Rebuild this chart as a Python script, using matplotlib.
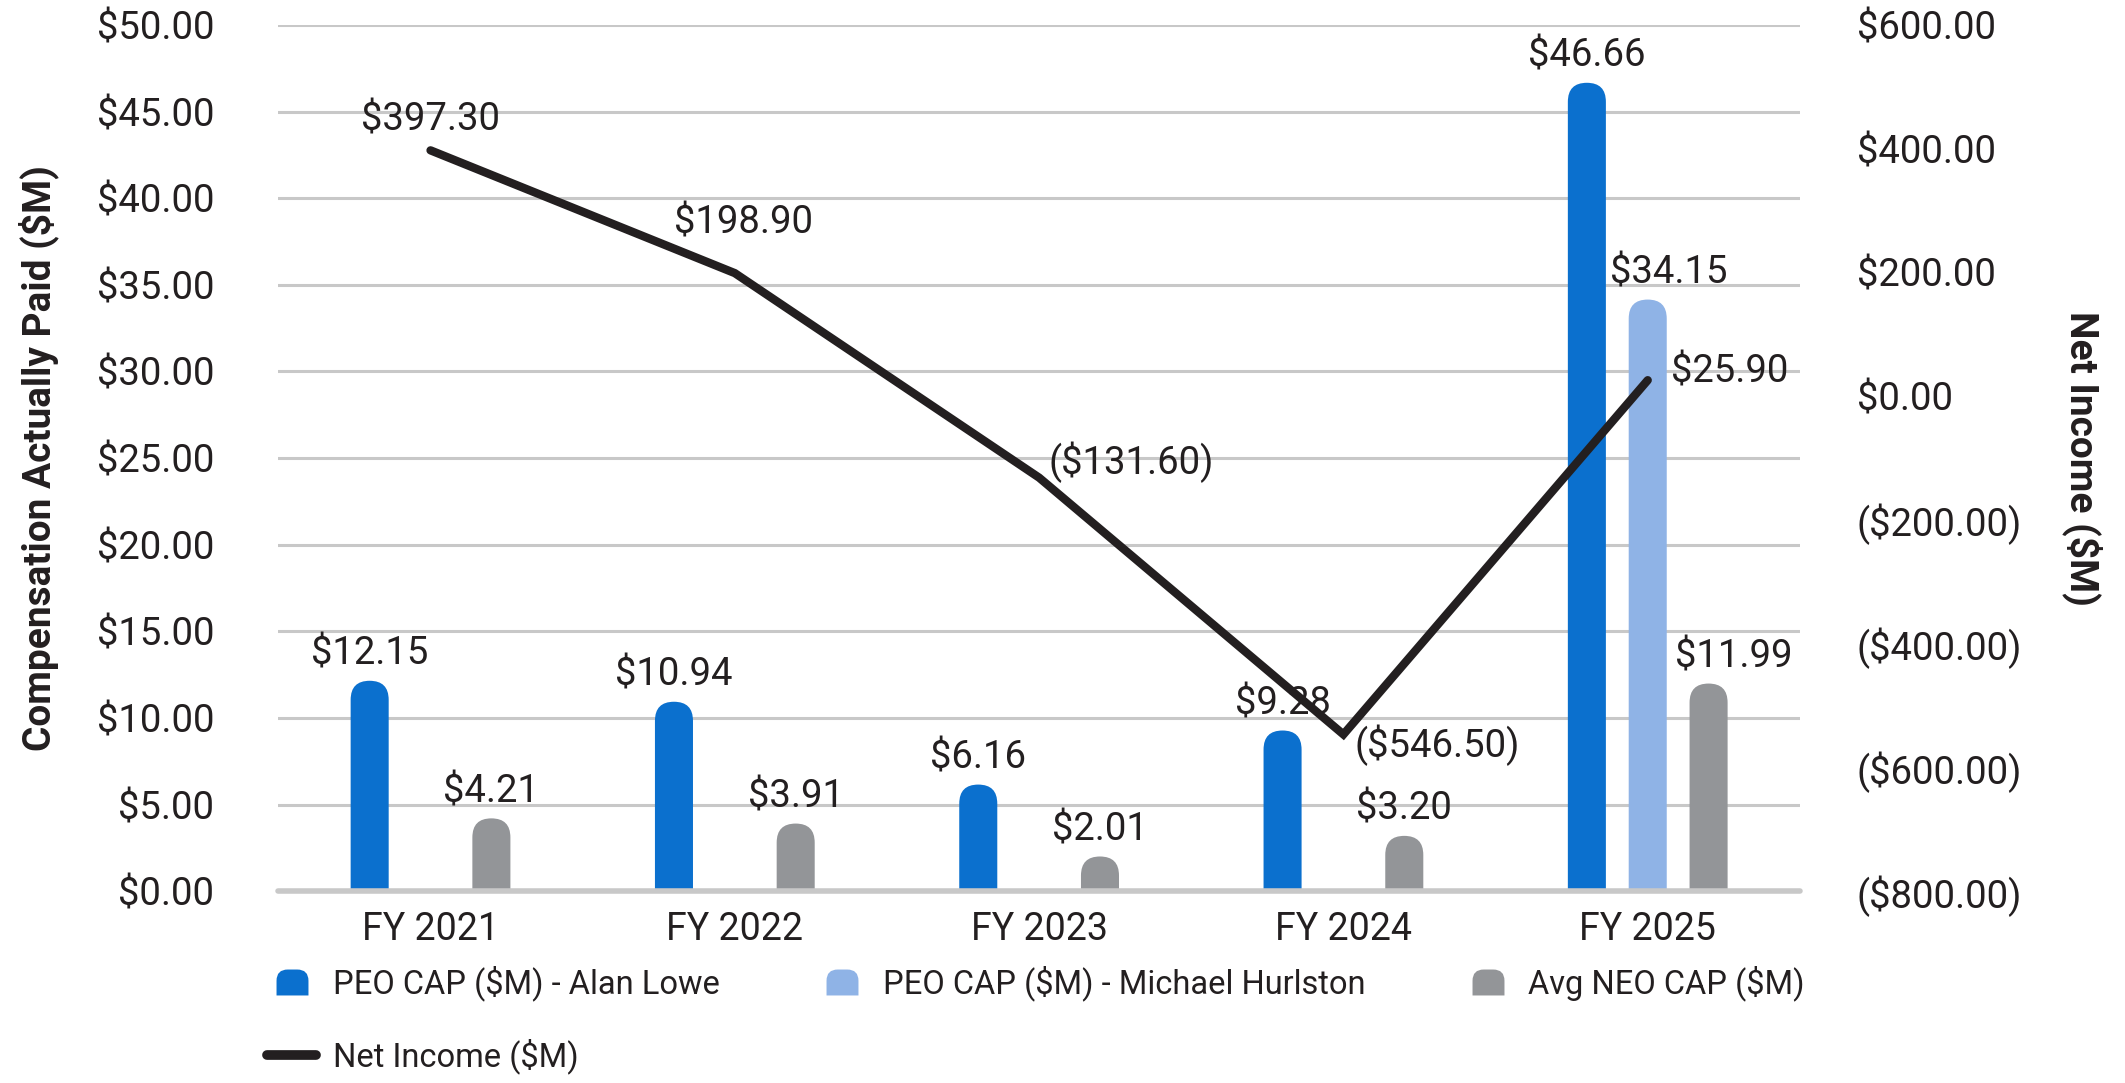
import numpy as np
import matplotlib
matplotlib.use("Agg")
import matplotlib.pyplot as plt
import matplotlib.path as mpath
from matplotlib.patches import FancyBboxPatch
from matplotlib.lines import Line2D
from matplotlib.ticker import FuncFormatter

plt.rcParams['font.family'] = ['Roboto', 'DejaVu Sans']

# data
years = ["FY 2021", "FY 2022", "FY 2023", "FY 2024", "FY 2025"]
cap_lowe = [12.15, 10.94, 6.16, 9.28, 46.66]
cap_hurlston = [None, None, None, None, 34.15]
cap_neo = [4.21, 3.91, 2.01, 3.20, 11.99]
net_income = [397.30, 198.90, -131.60, -546.50, 25.90]

blue = "#0B70CE"
light_blue = "#8FB3E6"
gray = "#939598"
dark = "#231F20"
grid_c = "#C8C8C8"
fs = 27.5

fig = plt.figure(figsize=(21.25, 10.83), dpi=100)
ax = fig.add_axes([0.131, 0.177, 0.716, 0.800])
ax.set_xlim(-0.5, 4.5)
ax.set_ylim(0, 50)

# aspect for round bar tops
bbox = ax.get_position()
ax_w = bbox.width * fig.get_figwidth() * fig.dpi
ax_h = bbox.height * fig.get_figheight() * fig.dpi
aspect = (50 / ax_h) / (5 / ax_w)

bw = 0.125
series = [(cap_lowe, -0.2, blue), (cap_hurlston, 0.0, light_blue), (cap_neo, 0.2, gray)]
# x nudges for crowded labels in FY 2025
label_dx = {(1, 4): 15, (2, 4): 18}
x = np.arange(len(years))
for si, (vals, off, col) in enumerate(series):
    for i, v in enumerate(vals):
        if v is None:
            continue
        ry = bw / 2 * aspect
        p = FancyBboxPatch((x[i] + off - bw / 2, -ry), bw, v + ry,
                           boxstyle=f"round,pad=0,rounding_size={bw/2}",
                           mutation_aspect=aspect, fc=col, ec="none", zorder=2)
        ax.add_patch(p)
        ax.annotate(f"${v:.2f}", (x[i] + off, v), xytext=(label_dx.get((si, i), 0), 6),
                    textcoords="offset points", ha="center", va="bottom",
                    fontsize=fs, color=dark, zorder=5)

ax.set_yticks(np.arange(0, 51, 5))
ax.yaxis.set_major_formatter(FuncFormatter(lambda v, p: f"${v:.2f}"))
ax.set_xticks(x)
ax.set_xticklabels(years)
ax.grid(axis="y", color=grid_c, linewidth=2.2, zorder=0)
ax.set_axisbelow(True)
for s in ["top", "left", "right"]:
    ax.spines[s].set_visible(False)
ax.spines["bottom"].set_color(grid_c)
ax.spines["bottom"].set_linewidth(4)
ax.spines["bottom"].set_capstyle("round")
ax.tick_params(axis="y", length=0, pad=46, labelsize=fs, labelcolor=dark)
ax.tick_params(axis="x", length=0, pad=14, labelsize=27, labelcolor=dark)
ax.set_ylabel("Compensation Actually Paid ($M)", fontsize=28, fontweight="bold", color=dark)
ax.yaxis.set_label_coords(-0.144, 0.5)

# net income line on right axis
ax2 = ax.twinx()
ax2.set_ylim(-800, 600)
ax2.set_yticks(np.arange(-800, 601, 200))
ax2.yaxis.set_major_formatter(FuncFormatter(lambda v, p: f"${v:.2f}" if v >= 0 else f"(${-v:.2f})"))
for s in ax2.spines.values():
    s.set_visible(False)
ax2.tick_params(axis="y", length=0, pad=41, labelsize=fs, labelcolor=dark)
ax2.plot(x, net_income, color=dark, linewidth=6, solid_capstyle="round",
         solid_joinstyle="miter", zorder=4)
ax2.set_ylabel("Net Income ($M)", fontsize=28, fontweight="bold", color=dark, rotation=270)
ax2.yaxis.set_label_coords(1.199, 0.5)

ni_offsets = [(0, 22, "center"), (6, 36, "center"), (7, 11, "left"), (8, -8, "left"), (17, 6, "left")]
for i, v in enumerate(net_income):
    dx, dy, ha = ni_offsets[i]
    txt = f"${v:.2f}" if v >= 0 else f"(${-v:.2f})"
    ax2.annotate(txt, (x[i], v), xytext=(dx, dy), textcoords="offset points",
                 ha=ha, va="center", fontsize=fs, color=dark)

# legend
r = 0.7
h = 0.8125
verts = [(-1, -h), (1, -h), (1, h - r), (1, h), (1 - r, h), (-1 + r, h), (-1, h), (-1, h - r), (-1, -h)]
codes = [mpath.Path.MOVETO, mpath.Path.LINETO, mpath.Path.LINETO, mpath.Path.CURVE3, mpath.Path.CURVE3,
         mpath.Path.LINETO, mpath.Path.CURVE3, mpath.Path.CURVE3, mpath.Path.CLOSEPOLY]
cap_marker = mpath.Path(verts, codes)

def bar_handle(c):
    return Line2D([], [], linestyle="none", marker=cap_marker, markersize=23,
                  markerfacecolor=c, markeredgecolor="none")

handles = [bar_handle(blue),
           Line2D([], [], color=dark, linewidth=7, solid_capstyle="round"),
           bar_handle(light_blue), bar_handle(gray)]
labels = ["PEO CAP ($M) - Alan Lowe", "Net Income ($M)",
          "PEO CAP ($M) - Michael Hurlston", "Avg NEO CAP ($M)"]
leg = fig.legend(handles, labels, ncol=3, loc="lower left", bbox_to_anchor=(0.112, -0.019),
                 frameon=False, fontsize=23.5, handlelength=1.5, handletextpad=0.5,
                 columnspacing=3.0, labelspacing=1.15, labelcolor=dark)

fig.savefig("out.png", dpi=100)
